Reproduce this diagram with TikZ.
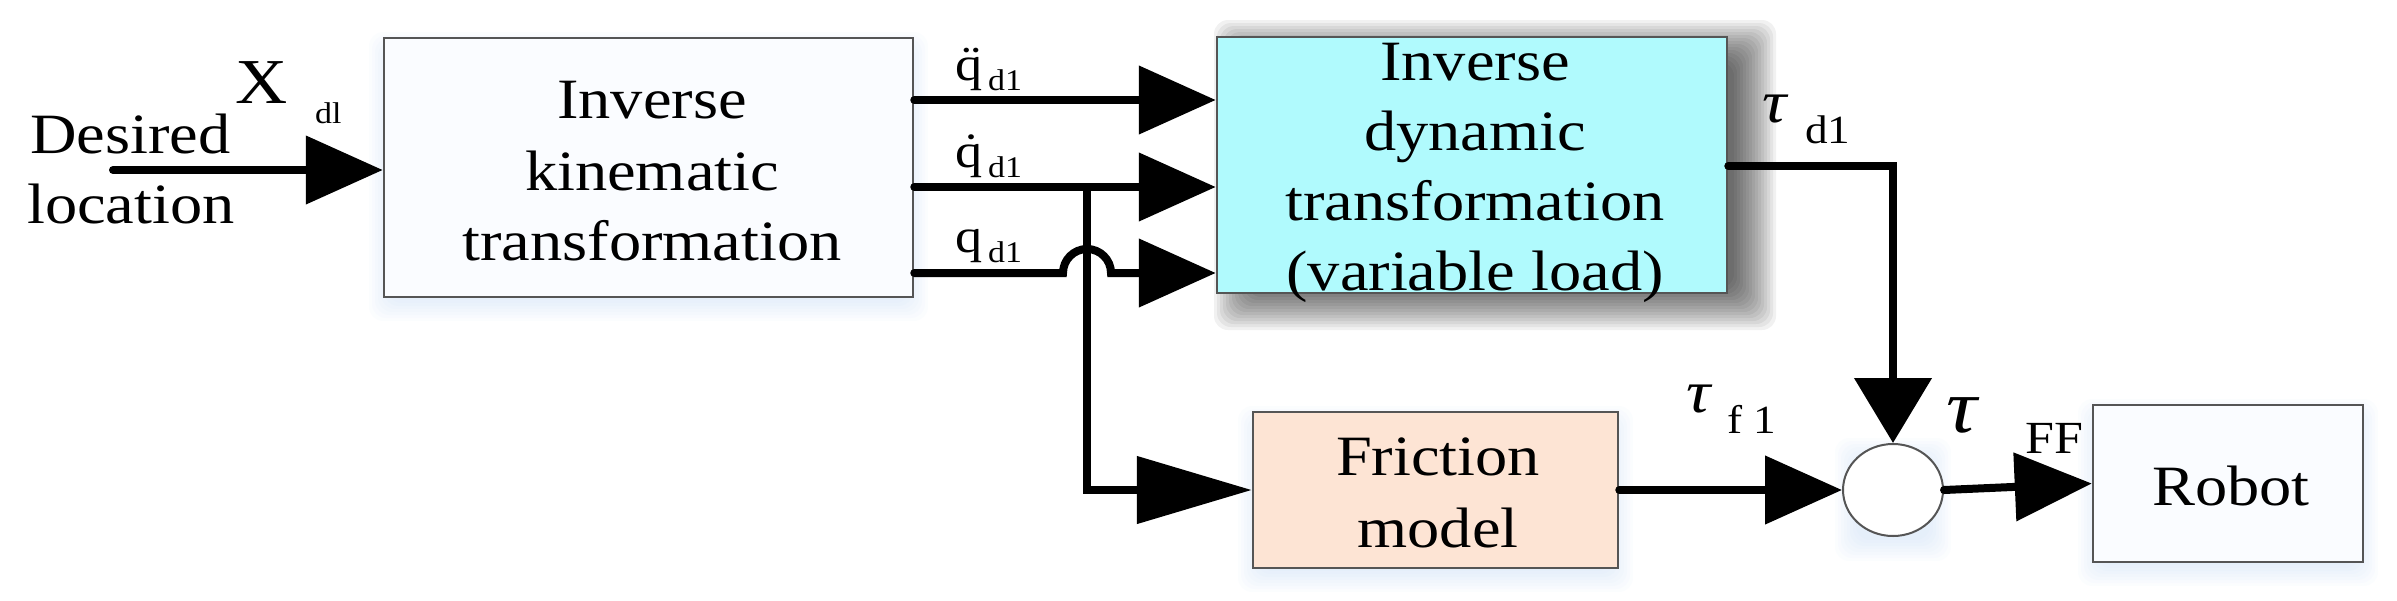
\documentclass[tikz,border=0pt]{standalone}
\usepackage{fontspec}
\setmainfont{Liberation Serif}[FakeStretch=1.13]
\usetikzlibrary{arrows.meta,shapes.geometric}

\definecolor{cyanfill}{RGB}{176,250,253}
\definecolor{peach}{RGB}{253,228,212}
\definecolor{edgegray}{RGB}{85,85,85}
\definecolor{boxwhite}{RGB}{250,252,255}
\definecolor{glow}{RGB}{150,190,235}

\newcommand{\fsz}[1]{\fontsize{#1}{#1}\selectfont}

\begin{document}
\begin{tikzpicture}[x=1pt,y=-1pt,
  box/.style={draw=edgegray, line width=2.5pt, inner sep=0pt, fill=boxwhite},
  txt/.style={inner sep=0pt, anchor=base, font=\fsz{57}},
  lbl/.style={inner sep=0pt, anchor=base west},
  sig/.style={line width=8pt, line cap=round, line join=miter},
  arr/.style={sig, -{Triangle[length=77pt,width=67pt]}},
  glowlayer/.style={fill=glow, fill opacity=0.035, rounded corners=14pt},
  darklayer/.style={fill=black, fill opacity=0.055, rounded corners=14pt}
]
\useasboundingbox (0,0) rectangle (2397,600);

% soft shadows
\foreach \r in {-6,-3,...,15} {
  \fill[glowlayer] (384-\r,47-\r) rectangle (913+\r,306+\r);
  \fill[glowlayer] (1253-\r,421-\r) rectangle (1618+\r,577+\r);
  \fill[glowlayer] (2093-\r,414-\r) rectangle (2363+\r,571+\r);
  \fill[glowlayer] (1850-\r,453-\r) rectangle (1936+\r,546+\r);
}
\foreach \r in {-15,-12,...,27} {
  \fill[darklayer] (1241-\r,47-\r) rectangle (1749+\r,303+\r);
}

% blocks
\node[box, minimum width=529pt, minimum height=259pt] (ik) at (648.5,167.5) {};
\node[draw=edgegray, line width=2.5pt, inner sep=0pt, fill=cyanfill,
      minimum width=510pt, minimum height=256pt] (id) at (1472,165) {};
\node[box, fill=peach, minimum width=365pt, minimum height=156pt] (fm) at (1435.5,490) {};
\node[box, minimum width=270pt, minimum height=157pt] (rb) at (2228,483.5) {};
\node[box, fill=white, ellipse, line width=2pt, minimum width=100pt, minimum height=92pt] (sum) at (1893,490) {};

% block texts
\node[txt] (ik1) at (652,118) {Inverse};
\node[txt] (ik2) at (652,190) {kinematic};
\node[txt] (ik3) at (652,260) {transformation};
\node[txt] (id1) at (1475,80) {Inverse};
\node[txt] (id2) at (1475,150) {dynamic};
\node[txt] (id3) at (1475,220) {transformation};
\node[txt] (id4) at (1475,290) {(variable load)};
\node[txt] (fm1) at (1438,475) {Friction};
\node[txt] (fm2) at (1438,547) {model};
\node[txt] (rb1) at (2231,505) {Robot};

% connectors
\coordinate (src) at (113,170);
\coordinate (qa) at (1000,100);
\coordinate (qb) at (1000,187);
\coordinate (qc) at (1000,273);
\coordinate (br) at (1087,187);
\coordinate (hopL) at (1063,273);
\coordinate (tc) at (1893,166);

\draw[arr] (src) -- (src -| ik.west);
\draw[arr] (qa -| ik.east) -- (qa -| id.west);
\draw[arr] (qb -| ik.east) -- (qb -| id.west);
\draw[arr] (qc -| ik.east) -- (hopL) arc[start angle=180, end angle=0, radius=24pt] -- (qc -| id.west);
\draw[sig, -{Triangle[length=115pt,width=66pt]}] (br) -- (br |- fm.west) -- (fm.west);
\draw[sig, -{Triangle[length=65pt,width=76pt]}] (tc -| id.east) -- (tc) -- (sum.north);
\draw[arr] (fm.east) -- (sum.west);
\draw[arr] (sum.east) -- (rb.west);

% labels
\node[lbl, font=\fsz{57}] (lDes) at (30,153) {Desired};
\node[lbl, font=\fsz{57}] (lLoc) at (27,223) {location};
\node[lbl, font=\fsz{64}] (lX) at (235,103) {X};
\node[lbl, font=\fsz{30}] (lXs) at (315,123) {dl};

\node[lbl, font=\fsz{48}] (lqa) at (955,80) {\"q};
\node[lbl, font=\fsz{30}] (lqas) at (988,90) {d1};
\node[lbl, font=\fsz{48}] (lqb) at (955,167) {\.q};
\node[lbl, font=\fsz{30}] (lqbs) at (988,177) {d1};
\node[lbl, font=\fsz{48}] (lqc) at (955,252) {q};
\node[lbl, font=\fsz{30}] (lqcs) at (988,262) {d1};

\node[lbl, font=\fsz{60}\itshape] (ltd) at (1762,122) {τ};
\node[lbl, font=\fsz{40}] (ltds) at (1805,143) {d1};
\node[lbl, font=\fsz{60}\itshape] (ltf) at (1686,412) {τ};
\node[lbl, font=\fsz{40}] (ltfs) at (1727,433) {f 1};
\node[lbl, font=\fsz{76}\itshape] (lt) at (1946,432) {τ};
\node[lbl, font=\fsz{46}] (lff) at (2025,453) {FF};
\end{tikzpicture}
\end{document}
